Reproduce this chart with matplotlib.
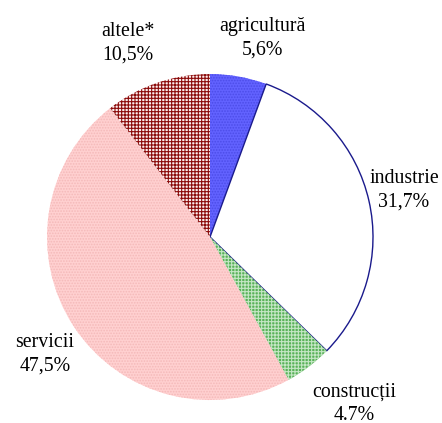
import matplotlib
matplotlib.use('Agg')
import matplotlib.pyplot as plt

plt.rcParams['font.family'] = ['Liberation Serif', 'DejaVu Serif']
plt.rcParams['hatch.linewidth'] = 0.8

sectors = ['agricultură', 'industrie', 'construcții', 'servicii', 'altele*']
shares = [5.6, 31.7, 4.7, 47.5, 10.5]
share_labels = ['5,6%', '31,7%', '4.7%', '47,5%', '10,5%']

face_colors = ['#6262ff', '#ffffff', '#58b258', '#ffd0d0', '#fdeeee']
hatch_colors = ['#4c4ce8', '#ffffff', '#c4e6c4', '#f4b9b9', '#8b0b0b']
hatches = ['......', None, '+++++', '......', '+++++']

# where each label block sits (pixels from top-left)
label_pos = [(262, 38), (404, 190), (354, 404), (45, 354), (128, 43)]

W, H = 442, 423
fig = plt.figure(figsize=(W / 100, H / 100), dpi=100)
cx, cy, r = 210, 237, 163
ax = fig.add_axes([(cx - r) / W, (H - cy - r) / H, 2 * r / W, 2 * r / H])

wedges, _ = ax.pie(shares, startangle=90, counterclock=False, radius=1,
                   colors=face_colors, wedgeprops=dict(linewidth=0))
for w, hc, h in zip(wedges, hatch_colors, hatches):
    w.set_edgecolor(hc)
    if h:
        w.set_hatch(h)

# only industrie has an outline
wedges[1].set_edgecolor('#1a1a8c')
wedges[1].set_linewidth(1.0)

ax.set_xlim(-1, 1)
ax.set_ylim(-1, 1)
ax.set_aspect('equal')
ax.axis('off')

for name, lab, (px, py) in zip(sectors, share_labels, label_pos):
    fig.text(px / W, 1 - py / H, name + '\n' + lab, ha='center', va='center',
             fontsize=14.3, linespacing=1.35, color='black')

fig.savefig('out.png', dpi=100)
